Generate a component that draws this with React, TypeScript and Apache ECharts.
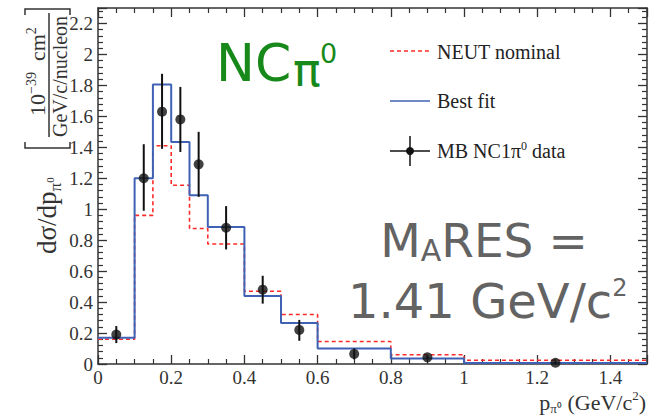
import React, { useEffect, useRef } from "react";
import * as echarts from "echarts";

// Histogram bin edges (p_pi0 in GeV/c) and bin contents
const binEdges = [0, 0.1, 0.15, 0.2, 0.25, 0.3, 0.4, 0.5, 0.6, 0.8, 1.0, 1.5];
const neutNominal = [0.16, 0.96, 1.41, 1.155, 0.875, 0.775, 0.47, 0.32, 0.145, 0.06, 0.024];
const bestFit = [0.17, 1.2, 1.805, 1.435, 1.09, 0.885, 0.44, 0.265, 0.1, 0.035, 0.006];

// MiniBooNE NC1pi0 data points with error bars
const dataX = [0.05, 0.125, 0.175, 0.225, 0.275, 0.35, 0.45, 0.55, 0.7, 0.9, 1.25];
const dataY = [0.19, 1.2, 1.63, 1.58, 1.29, 0.88, 0.48, 0.22, 0.065, 0.043, 0.008];
const errLow = [0.135, 0.99, 1.39, 1.37, 1.08, 0.74, 0.39, 0.15, 0.03, 0.03, 0.0];
const errHigh = [0.245, 1.42, 1.875, 1.79, 1.5, 1.02, 0.57, 0.285, 0.1, 0.056, 0.016];

const X_MIN = 0;
const X_MAX = 1.5;
const Y_MIN = 0;
const Y_MAX = 2.3;

const SERIF = "Liberation Serif";
const AXIS_COLOR = "#333";
const RED = "#ff2a2a";
const BLUE = "#3f62b5";

function stepData(values: number[]) {
  return binEdges.map((e, i) => [e, values[Math.min(i, values.length - 1)]]);
}

// screen -> local coords of a group rotated by +90deg at origin
const L = (sx: number, sy: number) => [-sy, sx];

let measureCtx: CanvasRenderingContext2D | null = null;
function textWidth(text: string, size: number, family: string) {
  if (!measureCtx) measureCtx = document.createElement("canvas").getContext("2d");
  if (!measureCtx) return text.length * size * 0.5;
  measureCtx.font = `${size}px "${family}"`;
  return measureCtx.measureText(text).width;
}

// Builds a run of rotated text segments reading bottom-to-top, starting at screen y = startY
function rotatedRun(
  startY: number,
  centerX: number,
  segs: { text: string; size: number; dy: number }[]
) {
  let lx = -startY;
  const out: any[] = [];
  for (const s of segs) {
    out.push({
      type: "text",
      x: lx,
      y: centerX + s.dy,
      style: {
        text: s.text,
        textAlign: "left",
        textVerticalAlign: "middle",
        fontFamily: SERIF,
        fontSize: s.size,
        fill: AXIS_COLOR,
      },
    });
    lx += textWidth(s.text, s.size, SERIF);
  }
  return out;
}

function axisPair(kind: "x" | "y", showLabels: boolean, position: string) {
  const isX = kind === "x";
  return {
    type: "value",
    position,
    min: isX ? X_MIN : Y_MIN,
    max: isX ? X_MAX : Y_MAX,
    interval: 0.2,
    axisLine: { show: true, onZero: false, lineStyle: { color: AXIS_COLOR, width: 1.5 } },
    axisTick: { show: true, inside: true, length: 9, lineStyle: { color: AXIS_COLOR, width: 1.3 } },
    minorTick: {
      show: true,
      splitNumber: isX ? 4 : 5,
      length: 5,
      lineStyle: { color: AXIS_COLOR, width: 1.2 },
    },
    splitLine: { show: false },
    minorSplitLine: { show: false },
    axisLabel: {
      show: showLabels,
      color: AXIS_COLOR,
      fontFamily: SERIF,
      fontSize: 19,
      margin: isX ? 4 : 5,
      showMaxLabel: false,
    },
  };
}

export default function App() {
  const ref = useRef<HTMLDivElement>(null);

  useEffect(() => {
    if (!ref.current) return;
    const chart = echarts.init(ref.current, null, { renderer: "svg" });

    const titleChildren: any[] = [
      ...rotatedRun(254, 47, [
        { text: "dσ/dp", size: 27, dy: 0 },
        { text: "π", size: 17, dy: 8 },
        { text: "0", size: 11, dy: 3 },
      ]),
      {
        type: "polyline",
        shape: { points: [L(25, 142), L(25, 148), L(70, 148), L(70, 142)] },
        style: { stroke: AXIS_COLOR, lineWidth: 1.5, fill: "none" },
      },
      ...rotatedRun(116, 37, [
        { text: "10", size: 22, dy: 0 },
        { text: "−39", size: 14, dy: -6 },
        { text: "  cm", size: 22, dy: 0 },
        { text: "2", size: 14, dy: -6 },
      ]),
      {
        type: "line",
        shape: { x1: L(49, 137)[0], y1: L(49, 137)[1], x2: L(49, 13)[0], y2: L(49, 13)[1] },
        style: { stroke: AXIS_COLOR, lineWidth: 1.5 },
      },
      ...rotatedRun(137, 60, [{ text: "GeV/c/nucleon", size: 20, dy: 0 }]),
      {
        type: "polyline",
        shape: { points: [L(25, 15), L(25, 9), L(70, 9), L(70, 15)] },
        style: { stroke: AXIS_COLOR, lineWidth: 1.5, fill: "none" },
      },
    ];

    const legend: any[] = [
      {
        type: "line",
        shape: { x1: 390, y1: 51, x2: 430, y2: 51 },
        style: { stroke: RED, lineWidth: 1.5, lineDash: [4, 3] },
      },
      {
        type: "text",
        style: { text: "NEUT nominal", x: 437, y: 52, textAlign: "left", textVerticalAlign: "middle", fontFamily: SERIF, fontSize: 20, fill: "#222" },
      },
      {
        type: "line",
        shape: { x1: 390, y1: 101, x2: 430, y2: 101 },
        style: { stroke: BLUE, lineWidth: 1.5 },
      },
      {
        type: "text",
        style: { text: "Best fit", x: 437, y: 101, textAlign: "left", textVerticalAlign: "middle", fontFamily: SERIF, fontSize: 20, fill: "#222" },
      },
      {
        type: "line",
        shape: { x1: 390, y1: 151, x2: 430, y2: 151 },
        style: { stroke: "#111", lineWidth: 1.5 },
      },
      {
        type: "line",
        shape: { x1: 410, y1: 136, x2: 410, y2: 166 },
        style: { stroke: "#111", lineWidth: 1.5 },
      },
      {
        type: "circle",
        shape: { cx: 410, cy: 151, r: 4 },
        style: { fill: "#111" },
      },
      {
        type: "text",
        style: {
          text: "{a|MB NC1π}{s|0}{a| data}",
          x: 437,
          y: 151,
          textAlign: "left",
          textVerticalAlign: "middle",
          fill: "#222",
          rich: {
            a: { fontFamily: SERIF, fontSize: 20, lineHeight: 22, fill: "#222" },
            s: { fontFamily: SERIF, fontSize: 12, lineHeight: 12, verticalAlign: "top", fill: "#222" },
          },
        },
      },
    ];

    const annotations: any[] = [
      {
        type: "text",
        style: { text: "NC", x: 216, y: 63, textAlign: "left", textVerticalAlign: "middle", fontFamily: "DejaVu Sans", fontSize: 52, fill: "#17891a" },
      },
      {
        type: "text",
        style: { text: "π", x: 293, y: 70, textAlign: "left", textVerticalAlign: "middle", fontFamily: "DejaVu Sans", fontSize: 46, fill: "#17891a" },
      },
      {
        type: "text",
        style: { text: "0", x: 320, y: 53, textAlign: "left", textVerticalAlign: "middle", fontFamily: "DejaVu Sans", fontSize: 27, fill: "#17891a" },
      },
      {
        type: "text",
        style: {
          text: "{b|M}{s|A}{b|RES =}",
          x: 484,
          y: 240,
          textAlign: "center",
          textVerticalAlign: "middle",
          fill: "#636363",
          rich: {
            b: { fontFamily: "DejaVu Sans", fontSize: 47, lineHeight: 50, fill: "#636363" },
            s: { fontFamily: "DejaVu Sans", fontSize: 30, lineHeight: 36, verticalAlign: "bottom", fill: "#636363" },
          },
        },
      },
      {
        type: "text",
        style: {
          text: "{b|1.41 GeV/c}{s|2}",
          x: 348,
          y: 301,
          textAlign: "left",
          textVerticalAlign: "middle",
          fill: "#636363",
          rich: {
            b: { fontFamily: "DejaVu Sans", fontSize: 48, lineHeight: 50, fill: "#636363" },
            s: { fontFamily: "DejaVu Sans", fontSize: 24, lineHeight: 24, verticalAlign: "top", fill: "#636363" },
          },
        },
      },
      {
        type: "text",
        style: {
          text: "{a|p}{s|π⁰}{a| (GeV/c}{u|2}{a|)}",
          x: 646,
          y: 402,
          textAlign: "right",
          textVerticalAlign: "middle",
          fill: AXIS_COLOR,
          rich: {
            a: { fontFamily: SERIF, fontSize: 22, lineHeight: 26, fill: AXIS_COLOR },
            s: { fontFamily: SERIF, fontSize: 13, lineHeight: 13, verticalAlign: "bottom", fill: AXIS_COLOR },
            u: { fontFamily: SERIF, fontSize: 13, lineHeight: 13, verticalAlign: "top", fill: AXIS_COLOR },
          },
        },
      },
    ];

    chart.setOption({
      animation: false,
      backgroundColor: "#ffffff",
      grid: { left: 98, right: 9, top: 8, bottom: 53, containLabel: false },
      xAxis: [axisPair("x", true, "bottom"), axisPair("x", false, "top")],
      yAxis: [axisPair("y", true, "left"), axisPair("y", false, "right")],
      graphic: [
        { type: "group", x: 0, y: 0, rotation: Math.PI / 2, children: titleChildren },
        ...legend,
        ...annotations,
      ],
      series: [
        {
          name: "NEUT nominal",
          type: "line",
          step: "end",
          data: stepData(neutNominal),
          showSymbol: false,
          symbol: "none",
          lineStyle: { color: RED, width: 1.6, type: [4, 3] },
          z: 3,
        },
        {
          name: "Best fit",
          type: "line",
          step: "end",
          data: stepData(bestFit),
          showSymbol: false,
          symbol: "none",
          lineStyle: { color: BLUE, width: 2 },
          z: 4,
        },
        {
          name: "MB NC1pi0 data errors",
          type: "custom",
          data: dataX.map((x, i) => [x, errLow[i], errHigh[i]]),
          encode: { x: 0, y: [1, 2] },
          renderItem: (params: any, api: any) => {
            const x = api.value(0);
            const p1 = api.coord([x, api.value(1)]);
            const p2 = api.coord([x, api.value(2)]);
            return {
              type: "line",
              shape: { x1: p1[0], y1: p1[1], x2: p2[0], y2: p2[1] },
              style: { stroke: "#111", lineWidth: 2 },
            };
          },
          z: 5,
        },
        {
          name: "MB NC1pi0 data",
          type: "scatter",
          data: dataX.map((x, i) => [x, dataY[i]]),
          symbol: "circle",
          symbolSize: 10,
          itemStyle: { color: "#111" },
          z: 6,
        },
      ],
    });

    return () => chart.dispose();
  }, []);

  return (
    <div
      ref={ref}
      style={{ position: "fixed", left: 0, top: 0, width: 656, height: 417, background: "#fff" }}
    />
  );
}
